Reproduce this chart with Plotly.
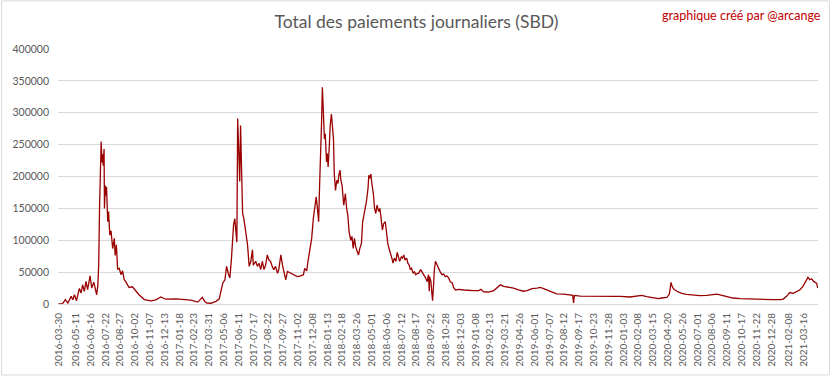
import pandas as pd
import plotly.graph_objects as go

# ---- data ----
start_date = "2016-03-29"
# days after start_date
day_offset = [
    1, 11, 18, 24, 32, 36, 40, 45, 52, 56, 60, 64, 68, 72, 78, 82, 87, 91, 94, 97,
    99, 101, 104, 105, 107, 109, 110, 112, 113, 115, 117, 118, 121, 123, 126, 129, 133, 137, 139, 142,
    145, 149, 153, 157, 161, 165, 169, 173, 181, 189, 197, 210, 226, 238, 250, 262, 287, 323, 340, 351,
    357, 362, 372, 384, 392, 398, 401, 406, 410, 415, 418, 422, 425, 427, 430, 432, 435, 437, 440, 442,
    444, 447, 449, 452, 457, 461, 465, 469, 473, 475, 481, 485, 489, 493, 497, 501, 505, 509, 513, 517,
    521, 525, 529, 534, 537, 542, 546, 550, 554, 558, 566, 574, 582, 590, 597, 600, 605, 608, 613, 617,
    621, 624, 628, 631, 634, 636, 639, 641, 643, 645, 648, 650, 653, 655, 657, 660, 662, 665, 667, 670,
    672, 675, 678, 681, 683, 686, 688, 691, 695, 699, 702, 705, 708, 712, 715, 718, 721, 724, 728, 731,
    734, 738, 741, 744, 747, 750, 754, 756, 758, 761, 763, 767, 770, 773, 776, 780, 783, 786, 789, 792,
    796, 799, 802, 806, 809, 812, 815, 818, 822, 825, 828, 831, 835, 838, 841, 844, 848, 851, 854, 857,
    860, 864, 867, 870, 874, 877, 882, 888, 894, 898, 901, 903, 904, 907, 910, 911, 914, 915, 918, 920,
    924, 927, 930, 934, 938, 942, 946, 950, 954, 959, 962, 967, 975, 987, 999, 1011, 1023, 1029, 1035, 1047,
    1060, 1072, 1076, 1084, 1096, 1108, 1120, 1132, 1141, 1153, 1165, 1173, 1181, 1189, 1201, 1213, 1230, 1246, 1252, 1254,
    1256, 1270, 1286, 1302, 1319, 1335, 1351, 1367, 1391, 1408, 1420, 1432, 1444, 1452, 1460, 1468, 1481, 1487, 1491, 1493,
    1497, 1505, 1517, 1529, 1545, 1561, 1578, 1594, 1602, 1610, 1626, 1642, 1659, 1675, 1691, 1707, 1723, 1739, 1756, 1764,
    1772, 1780, 1788, 1796, 1804, 1812, 1819, 1824, 1829, 1833, 1838, 1845, 1848,
]
paiements_sbd = [
    0, 500, 6800, 1500, 12000, 6800, 14500, 5200, 24500, 17000, 30000, 19800, 35400, 22400, 44000, 25000, 34300, 19800, 14500, 30000,
    61000, 150000, 222000, 255000, 222000, 235000, 217000, 243000, 150000, 186000, 170000, 184000, 129000, 145000, 108000, 115000, 87000, 103000, 76000, 93000,
    54000, 56000, 46000, 52000, 38000, 35000, 30000, 26000, 27000, 20000, 14500, 7000, 5000, 6500, 11000, 7500, 8000, 6000, 3000, 10400,
    4000, 1500, 1200, 4200, 7800, 25000, 33000, 38000, 59000, 46000, 41000, 72000, 103000, 124000, 134000, 113000, 97000, 291000, 233000, 192000,
    280000, 176000, 142000, 134000, 108000, 93000, 59000, 67000, 85000, 61000, 67000, 59000, 64000, 54000, 67000, 54000, 61000, 77000, 69000, 67000,
    59000, 54000, 59000, 48000, 54000, 77000, 61000, 51000, 38000, 51000, 48000, 46000, 43000, 44000, 46000, 56000, 52000, 67000, 90000, 103000,
    134000, 147000, 168000, 150000, 129000, 181000, 233000, 283000, 340000, 306000, 259000, 267000, 223000, 236000, 215000, 249000, 280000, 298000, 280000, 259000,
    204000, 178000, 194000, 189000, 202000, 210000, 194000, 186000, 155000, 173000, 150000, 139000, 113000, 100000, 106000, 87000, 103000, 90000, 82000, 77000,
    87000, 95000, 129000, 139000, 152000, 160000, 181000, 202000, 197000, 204000, 191000, 173000, 150000, 142000, 155000, 145000, 150000, 134000, 116000, 126000,
    129000, 113000, 95000, 85000, 80000, 72000, 64000, 72000, 67000, 81000, 74000, 67000, 74000, 72000, 77000, 69000, 72000, 64000, 61000, 54000,
    56000, 48000, 51000, 46000, 48000, 48000, 54000, 48000, 41000, 35000, 46000, 20000, 43000, 35000, 12000, 5000, 35000, 51000, 67000, 64000,
    59000, 52000, 50000, 46000, 47000, 43000, 44000, 41000, 35000, 33000, 26000, 22000, 23000, 22000, 21000, 21000, 21000, 23000, 19000, 18800,
    21000, 27600, 30000, 27600, 26500, 25000, 22000, 20000, 21000, 24000, 25000, 26000, 24000, 22000, 18800, 16000, 15600, 14500, 13500, 1500,
    13500, 12500, 12500, 12000, 12000, 11500, 11500, 12000, 11000, 12000, 13500, 11500, 10400, 9400, 8300, 9400, 10400, 15600, 34000, 29000,
    24000, 20000, 16700, 15100, 14000, 13000, 13500, 14500, 15600, 14500, 11500, 9400, 8300, 7800, 7300, 6800, 6800, 6800, 6800, 7800,
    12000, 18000, 16700, 20000, 22000, 27600, 35400, 41700, 38000, 39600, 35400, 32800, 25000,
]
tick_labels = [
    "2016-03-30", "2016-05-11", "2016-06-16", "2016-07-22", "2016-08-27", "2016-10-02",
    "2016-11-07", "2016-12-13", "2017-01-18", "2017-02-23", "2017-03-31", "2017-05-06",
    "2017-06-11", "2017-07-17", "2017-08-22", "2017-09-27", "2017-11-02", "2017-12-08",
    "2018-01-13", "2018-02-18", "2018-03-26", "2018-05-01", "2018-06-06", "2018-07-12",
    "2018-08-17", "2018-09-22", "2018-10-28", "2018-12-03", "2019-01-08", "2019-02-13",
    "2019-03-21", "2019-04-26", "2019-06-01", "2019-07-07", "2019-08-12", "2019-09-17",
    "2019-10-23", "2019-11-28", "2020-01-03", "2020-02-08", "2020-03-15", "2020-04-20",
    "2020-05-26", "2020-07-01", "2020-08-06", "2020-09-11", "2020-10-17", "2020-11-22",
    "2020-12-28", "2021-02-08", "2021-03-16",
]
y_ticks = [0, 50000, 100000, 150000, 200000, 250000, 300000, 350000, 400000]

dates = pd.Timestamp(start_date) + pd.to_timedelta(day_offset, unit="D")

GRAY = "#595959"
FONT = "Lato, 'Open Sans', sans-serif"

fig = go.Figure()
fig.add_trace(go.Scatter(
    x=dates, y=paiements_sbd, mode="lines",
    line=dict(color="#990000", width=1.3),
    hoverinfo="x+y", showlegend=False,
))

fig.update_layout(
    width=833, height=379,
    margin=dict(l=57, r=15, t=49, b=73),
    paper_bgcolor="white", plot_bgcolor="white",
    font=dict(family=FONT, color=GRAY),
    title=dict(text="Total des paiements journaliers (SBD)", x=0.5, xref="container",
               xanchor="center", y=1 - 22 / 379, yanchor="middle",
               font=dict(family=FONT, size=17.5, color=GRAY)),
    xaxis=dict(
        type="date", range=["2016-03-29", "2021-04-20 12:00"],
        tickmode="array", tickvals=tick_labels, ticktext=tick_labels,
        tickangle=-90, tickfont=dict(size=10, color=GRAY, family=FONT),
        showgrid=False, showline=True, linecolor="#D9D9D9", linewidth=1,
        ticks="", zeroline=False, ticklabelstandoff=4,
    ),
    yaxis=dict(
        range=[0, 400000], tickmode="array", tickvals=y_ticks,
        ticktext=[str(v) for v in y_ticks],
        tickfont=dict(size=10.5, color=GRAY, family=FONT),
        showgrid=True, gridcolor="#D9D9D9", gridwidth=1,
        zeroline=False, showline=False, ticks="", ticklabelstandoff=8,
    ),
    annotations=[dict(
        text="graphique créé par @arcange", xref="paper", yref="paper",
        x=(823 - 57) / 761, y=(306 - 15) / 257, xanchor="right", yanchor="middle",
        showarrow=False, font=dict(family=FONT, size=12.5, color="#C00000"),
    )],
    shapes=[dict(
        type="rect", xref="paper", yref="paper",
        x0=(0.5 - 57) / 761, x1=(829.5 - 57) / 761,
        y0=(306 - 377.5) / 257, y1=(306 - 0.5) / 257,
        line=dict(color="#D9D9D9", width=1), fillcolor="rgba(0,0,0,0)", layer="below",
    )],
)

fig.write_html(
    "out.html",
    config={"displayModeBar": False},
    post_script="document.body.style.margin='0';document.body.style.overflow='hidden';",
)
